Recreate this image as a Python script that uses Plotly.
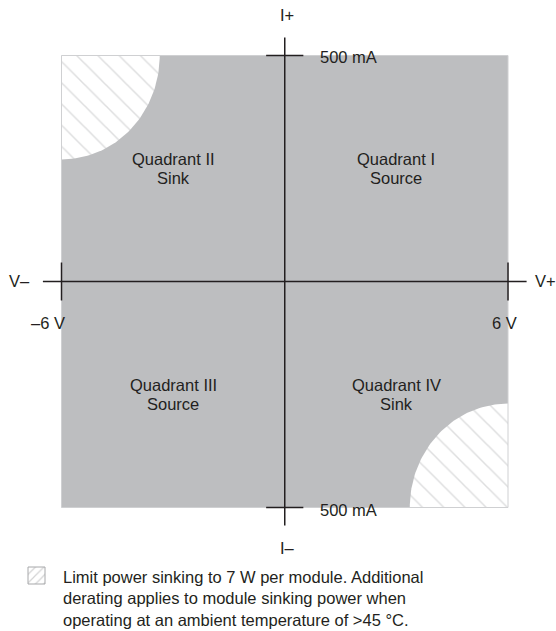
import numpy as np
import plotly.graph_objects as go

# ---- chart values ----
V_MAX = 6            # volts (±)
I_MAX = 500          # mA (±)
V_AXIS_EXT = 6.5     # horizontal axis line extent (V)
I_AXIS_EXT = 540     # vertical axis line extent (mA)
x_tick_labels = ["–6 V", "6 V"]
y_tick_labels = ["500 mA", "500 mA"]
axis_end_labels = ["V–", "V+", "I+", "I–"]
quadrant_titles = ["Quadrant I", "Quadrant II", "Quadrant III", "Quadrant IV"]
quadrant_roles = ["Source", "Sink", "Source", "Sink"]
quadrant_x = [3, -3, -3, 3]
quadrant_y = [250, 250, -250, -250]
# sink-derating regions (quarter-ellipse radii, in axis units)
derate_rx = 2.64     # V
derate_ry = 230      # mA
note_lines = [
    "Limit power sinking to 7 W per module. Additional",
    "derating applies to module sinking power when",
    "operating at an ambient temperature of >45 °C.",
]

# ---- styling ----
W, H = 556, 631
GRAY = "#bdbec0"
INK = "#231f20"
FONT = "Liberation Sans, Arial, Helvetica, sans-serif"
FS = 16.5
FS_NOTE = 16.5

# pixel frame of the ±6 V / ±500 mA box
PX_L, PX_R, PX_T, PX_B = 61.5, 508.0, 55.5, 507.5
sx = (PX_R - PX_L) / (2 * V_MAX)
sy = (PX_B - PX_T) / (2 * I_MAX)
x_range = [-V_MAX - PX_L / sx, V_MAX + (W - PX_R) / sx]
y_range = [-I_MAX - (H - PX_B) / sy, I_MAX + PX_T / sy]

fig = go.Figure()

# gray operating area
fig.add_shape(type="rect", x0=-V_MAX, x1=V_MAX, y0=-I_MAX, y1=I_MAX,
              fillcolor=GRAY, line=dict(width=0), layer="below")

# hatched derating regions (quadrant II top-left, quadrant IV bottom-right)
t = np.linspace(0, np.pi / 2, 60)
for cx, cy, dx, dy in [(-V_MAX, I_MAX, 1, -1), (V_MAX, -I_MAX, -1, 1)]:
    xs = np.concatenate([[cx], cx + dx * derate_rx * np.cos(t), [cx]])
    ys = np.concatenate([[cy], cy + dy * derate_ry * np.sin(t), [cy]])
    fig.add_trace(go.Scatter(
        x=xs, y=ys, mode="lines", fill="toself", line=dict(width=0),
        fillpattern=dict(shape="\\", fgcolor=GRAY, bgcolor="white",
                         size=15, solidity=0.1),
        hoverinfo="skip", showlegend=False))

# box outline (light)
fig.add_trace(go.Scatter(
    x=[-V_MAX, V_MAX, V_MAX, -V_MAX, -V_MAX],
    y=[-I_MAX, -I_MAX, I_MAX, I_MAX, -I_MAX], mode="lines",
    line=dict(color="#cfd0d2", width=1), hoverinfo="skip", showlegend=False))

# axes
tick_v = 0.5   # half-length of current tick (V)
tick_i = 42    # half-length of voltage tick (mA)
axis_lines = [
    ([-V_AXIS_EXT, V_AXIS_EXT], [0, 0]),
    ([0, 0], [-I_AXIS_EXT, I_AXIS_EXT]),
    ([-V_MAX, -V_MAX], [-tick_i, tick_i]),
    ([V_MAX, V_MAX], [-tick_i, tick_i]),
    ([-tick_v, tick_v], [I_MAX, I_MAX]),
    ([-tick_v, tick_v], [-I_MAX, -I_MAX]),
]
for xs, ys in axis_lines:
    fig.add_trace(go.Scatter(x=xs, y=ys, mode="lines",
                             line=dict(color=INK, width=1.5),
                             hoverinfo="skip", showlegend=False))

def txt(x, y, s, xanchor="center", xref="x", yref="y", size=FS, align="center"):
    fig.add_annotation(x=x, y=y, text=s, showarrow=False, xref=xref, yref=yref,
                       xanchor=xanchor, yanchor="middle", align=align,
                       font=dict(family=FONT, size=size, color=INK))

# axis end labels
txt(-V_MAX - 1.12, 2, axis_end_labels[0])
txt(V_MAX + 1.0, 2, axis_end_labels[1])
txt(0.07, I_MAX + 90, axis_end_labels[2])
txt(0.07, -I_MAX - 90, axis_end_labels[3])

# tick labels
txt(-V_MAX - 0.35, -92, x_tick_labels[0])
txt(V_MAX - 0.1, -92, x_tick_labels[1])
txt(0.9, I_MAX - 3, y_tick_labels[0], xanchor="left")
txt(0.9, -I_MAX - 5, y_tick_labels[1], xanchor="left")

# quadrant labels
for qx, qy, t1, t2 in zip(quadrant_x, quadrant_y, quadrant_titles, quadrant_roles):
    txt(qx, qy + 22, t1)
    txt(qx, qy - 22, t2)

# note icon (hatched square)
ix0, ix1 = -V_MAX - (PX_L - 28) / sx, -V_MAX - (PX_L - 45) / sx
iy1, iy0 = -I_MAX - (567 - PX_B) / sy, -I_MAX - (584 - PX_B) / sy
fig.add_trace(go.Scatter(
    x=[ix0, ix1, ix1, ix0, ix0], y=[iy0, iy0, iy1, iy1, iy0], mode="lines",
    fill="toself", line=dict(color="#a7a8aa", width=1),
    fillpattern=dict(shape="/", fgcolor="#a7a8aa", bgcolor="white",
                     size=6, solidity=0.2),
    hoverinfo="skip", showlegend=False))

# note text (one block)
txt(61 / W, 1 - 598 / H, "<br>".join(note_lines), xanchor="left",
    xref="paper", yref="paper", size=FS_NOTE, align="left")

fig.update_layout(
    width=W, height=H,
    margin=dict(l=0, r=0, t=0, b=0),
    paper_bgcolor="white", plot_bgcolor="white",
    xaxis=dict(range=x_range, visible=False, fixedrange=True),
    yaxis=dict(range=y_range, visible=False, fixedrange=True),
    showlegend=False,
)

fig.write_html(
    "out.html",
    config={"displayModeBar": False},
    post_script="document.body.style.margin='0';document.body.style.overflow='hidden';",
)
